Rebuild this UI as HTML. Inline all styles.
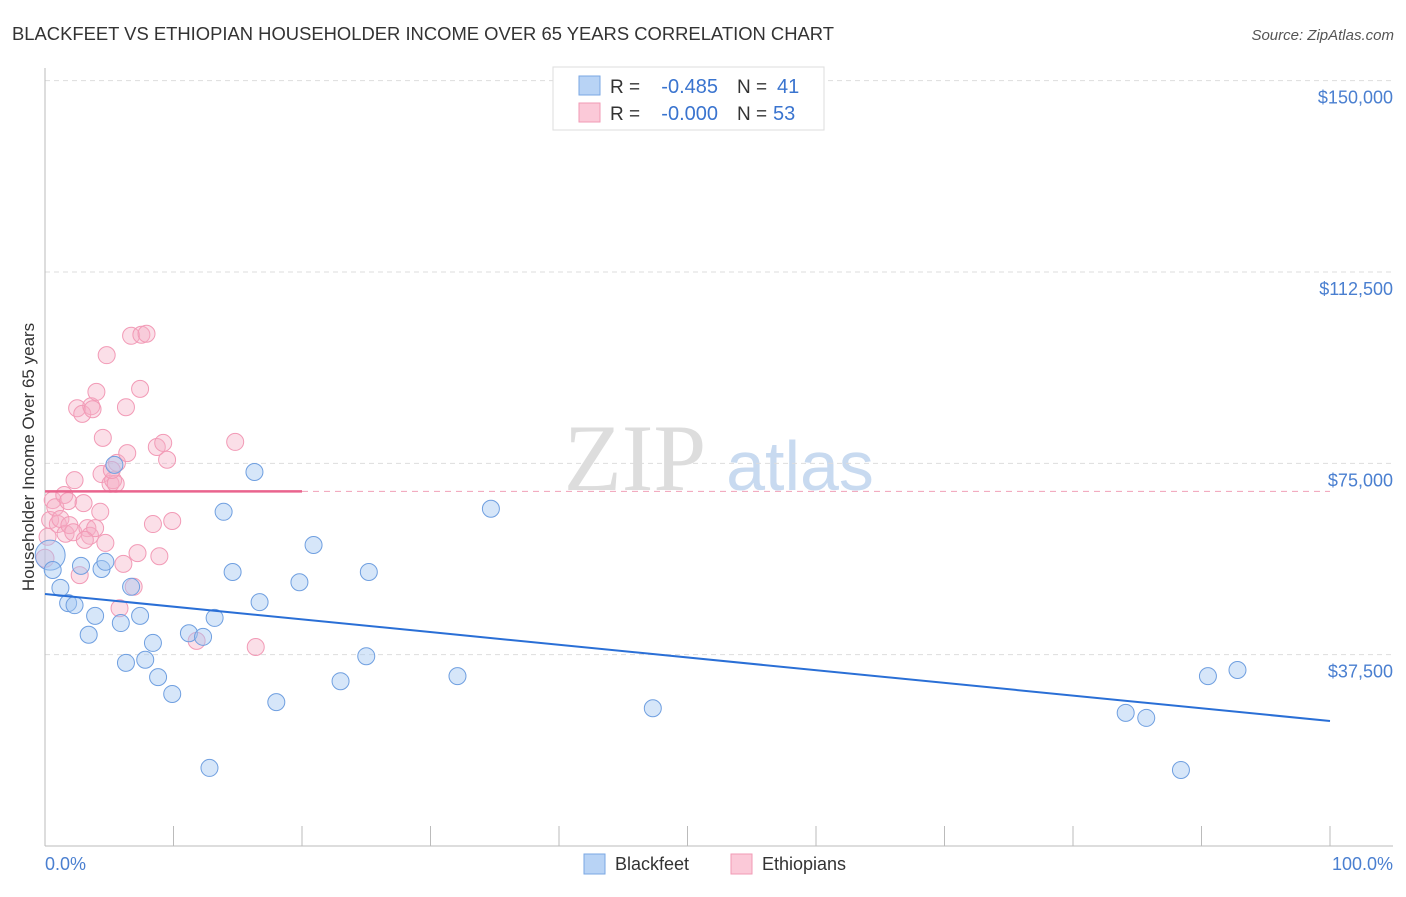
<!DOCTYPE html>
<html><head><meta charset="utf-8"><style>
body{margin:0;background:#fff;font-family:"Liberation Sans",sans-serif}
</style></head><body>
<svg width="1406" height="892" xmlns="http://www.w3.org/2000/svg" font-family="Liberation Sans, sans-serif">
<text x="12" y="40" font-size="18" fill="#333" textLength="822" lengthAdjust="spacingAndGlyphs">BLACKFEET VS ETHIOPIAN HOUSEHOLDER INCOME OVER 65 YEARS CORRELATION CHART</text>
<text x="1394" y="40" font-size="15" fill="#555" font-style="italic" text-anchor="end">Source: ZipAtlas.com</text>
<g>
<text x="635" y="490" font-size="95" font-family="Liberation Serif, serif" fill="#ddd" text-anchor="middle">ZIP</text>
<text x="800" y="490" font-size="70" fill="#c8daf0" text-anchor="middle">atlas</text>
</g>
<g id="grid"></g>
<g id="axes"></g>
<g id="marks"></g>
<text x="34" y="457" font-size="17" fill="#333" text-anchor="middle" transform="rotate(-90 34 457)">Householder Income Over 65 years</text>
<text x="45" y="870" font-size="18" fill="#4a7fd0">0.0%</text>
<text x="1393" y="870" font-size="18" fill="#4a7fd0" text-anchor="end">100.0%</text>
<g>
<rect x="553" y="67" width="271" height="63" fill="#fff" stroke="#ddd"/>
<rect x="579" y="76" width="21" height="19" fill="#b8d3f5" stroke="#7aa7e3"/>
<rect x="579" y="103" width="21" height="19" fill="#fbc9d8" stroke="#f19ab5"/>
<text x="610" y="93" font-size="19" fill="#333">R =</text>
<text x="718" y="93" font-size="20" fill="#3a74cf" text-anchor="end">-0.485</text>
<text x="737" y="93" font-size="19" fill="#333">N =</text>
<text x="777" y="93" font-size="20" fill="#3a74cf">41</text>
<text x="610" y="120" font-size="19" fill="#333">R =</text>
<text x="718" y="120" font-size="20" fill="#3a74cf" text-anchor="end">-0.000</text>
<text x="737" y="120" font-size="19" fill="#333">N =</text>
<text x="773" y="120" font-size="20" fill="#3a74cf">53</text>
</g>
<g>
<rect x="584" y="854" width="21" height="20" fill="#b8d3f5" stroke="#7aa7e3"/>
<text x="615" y="870" font-size="18" fill="#333">Blackfeet</text>
<rect x="731" y="854" width="21" height="20" fill="#fbc9d8" stroke="#f19ab5"/>
<text x="762" y="870" font-size="18" fill="#333">Ethiopians</text>
</g>
</svg>
<script>
const yTicks=[37500,75000,112500,150000];
const yTickLabels=["$37,500","$75,000","$112,500","$150,000"];
const xTicks=[0,10,20,30,40,50,60,70,80,90,100];
const blackfeetX=[0.4,0.6,1.2,1.8,2.3,2.8,3.4,3.9,4.4,4.7,5.4,5.9,6.3,6.7,7.4,7.8,8.4,8.8,9.9,11.2,12.3,12.8,13.2,13.9,14.6,16.3,16.7,18.0,19.8,20.9,23.0,25.0,25.2,32.1,34.7,47.3,84.1,85.7,88.4,90.5,92.8];
const blackfeetY=[57000,54100,50600,47600,47200,54900,41400,45100,54300,55700,74700,43700,35900,50800,45100,36500,39800,33100,29800,41700,41000,15300,44700,65500,53700,73300,47800,28200,51700,59000,32300,37200,53700,33300,66100,27000,26100,25100,14900,33300,34500];
const ethX=[0,0.2,0.4,0.6,0.8,1.0,1.2,1.5,1.6,1.8,1.9,2.2,2.3,2.5,2.7,2.9,3.3,3.5,3.6,3.7,3.9,4.0,4.3,4.4,4.5,4.7,4.8,5.1,5.3,5.5,5.6,5.8,6.1,6.3,6.4,6.7,6.9,7.2,7.4,7.5,7.9,8.4,8.7,8.9,9.2,9.5,9.9,11.8,14.8,16.4,3.0,3.1,5.2];
const ethY=[56400,60600,63900,67800,66400,63100,64100,68800,61200,67600,62900,61500,71700,85800,53100,84700,62300,60800,86200,85600,62300,89000,65500,72900,80000,59400,96200,71000,71700,71000,75100,46600,55300,86000,77000,100000,50800,57400,89600,100200,100400,63100,78200,56800,79000,75700,63700,40200,79200,39000,67200,60000,73700];
const blackfeetTrend=[49400,24500];
const ethTrend=[69500,69500];
const NS="http://www.w3.org/2000/svg";
const X=v=>45+v*12.85;
const Y=v=>846-v/37500*191.33;
function mk(t,a,p){const e=document.createElementNS(NS,t);for(const k in a)e.setAttribute(k,a[k]);p.appendChild(e);return e;}
const grid=document.getElementById('grid'),axes=document.getElementById('axes'),marks=document.getElementById('marks');
yTicks.forEach((t,i)=>{
 const l=mk('line',{x1:45,x2:1393,y1:Y(t),y2:Y(t),stroke:'#ddd','stroke-dasharray':'5,4'},grid);
 
 
 const tx=mk('text',{x:1393,y:Y(t)+23,'font-size':18,fill:'#4a7fd0','text-anchor':'end'},grid);
 tx.textContent=yTickLabels[i];
 
 
});
const ya=mk('line',{x1:45,x2:45,y1:68,y2:846,stroke:'#bbb'},axes);


const xa=mk('line',{x1:45,x2:1393,y1:846,y2:846,stroke:'#bbb'},axes);


xTicks.forEach(t=>{
 const l=mk('line',{x1:X(t),x2:X(t),y1:826,y2:846,stroke:'#bbb'},axes);
 
 
});
ethX.forEach((x,i)=>{
 const c=mk('circle',{cx:X(x),cy:Y(ethY[i]),r:(i==0?9:8.5),fill:'rgba(246,175,198,0.4)',stroke:'#f29ab6','stroke-width':1},marks);
 
 
});
blackfeetX.forEach((x,i)=>{
 const c=mk('circle',{cx:X(x),cy:Y(blackfeetY[i]),r:(i==0?15:8.5),fill:'rgba(165,199,242,0.45)',stroke:'#6f9fe0','stroke-width':1},marks);
 
 
});
const bt=mk('line',{x1:X(0),x2:X(100),y1:Y(blackfeetTrend[0]),y2:Y(blackfeetTrend[1]),stroke:'#2a6fd6','stroke-width':2},marks);


const pt=mk('line',{x1:X(0),x2:X(20),y1:Y(ethTrend[0]),y2:Y(ethTrend[0]+(ethTrend[1]-ethTrend[0])*0.2),stroke:'#e9648e','stroke-width':2.5},marks);


const pd=mk('line',{x1:X(20),x2:X(100),y1:Y(ethTrend[0]),y2:Y(ethTrend[1]),stroke:'#f0a0b8','stroke-width':1,'stroke-dasharray':'6,5'},marks);


</script>
</body></html>
